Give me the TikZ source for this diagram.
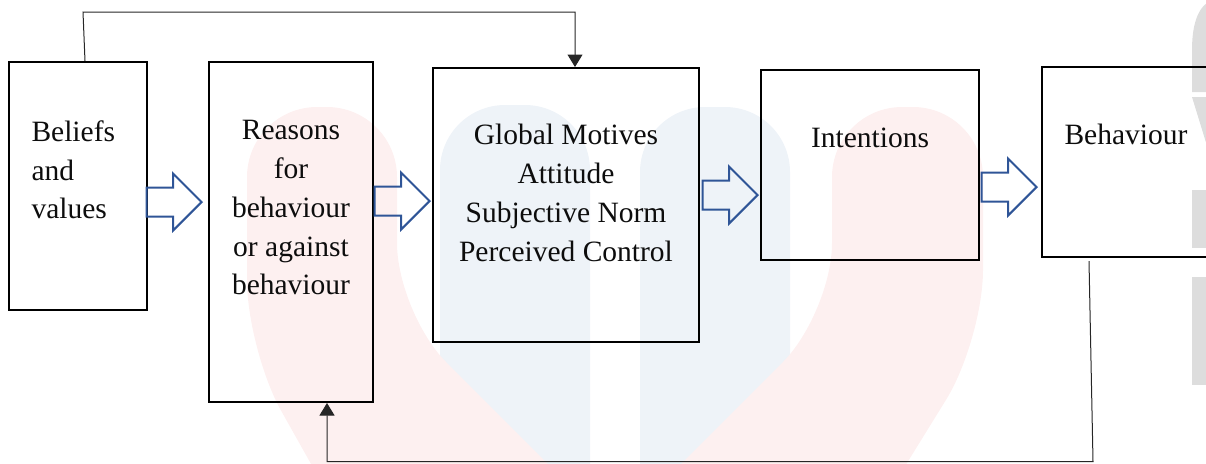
\documentclass[tikz,border=0pt]{standalone}
\usepackage{fontspec}
\setmainfont{Liberation Serif}
\usetikzlibrary{arrows.meta,calc,fit,shapes.arrows}
\definecolor{flowblue}{RGB}{47,85,151}
\definecolor{wmpink}{RGB}{253,240,240}
\definecolor{wmblue}{RGB}{238,243,248}
\definecolor{wmgrey}{RGB}{221,221,221}

\begin{document}
\begin{tikzpicture}[x=0.4pt,y=-0.4pt,
  box/.style={draw,line width=0.8pt,inner sep=0pt},
  txt/.style={inner sep=0pt,text=black!95,font={\fontsize{11.8}{15.5}\selectfont}},
  blk/.style={single arrow,draw=flowblue,line width=0.8pt,inner xsep=0pt,inner ysep=5.4pt,
    minimum height=22pt,single arrow head extend=5.6pt},
  fb/.style={line width=0.4pt,draw=black!85,-{Triangle[length=5pt,width=6pt]}}]
  \useasboundingbox (0,0) rectangle (1206,463);
  % watermark
  \fill[wmblue,rounded corners=26pt] (440,620) -- (440,105) -- (590,105) -- (590,620) -- cycle;
  \fill[wmblue,rounded corners=26pt] (640,620) -- (640,107) -- (790,107) -- (790,620) -- cycle;
  \fill[wmpink,rounded corners=28pt] (365,560) -- (247,350) -- (247,107) -- (397,107)
        -- (397,313) -- (644,560) -- cycle;
  \fill[wmpink,rounded corners=28pt] (585,560) -- (832,313) -- (832,107) -- (983,107)
        -- (983,340) -- (847,560) -- cycle;
  \fill[wmgrey] (1192,92) -- (1192,50) .. controls (1192,20) and (1200,5) .. (1212,0)
        -- (1212,92) -- cycle;
  \fill[wmgrey] (1192,97) -- (1212,97) -- (1212,162) -- cycle;
  \fill[wmgrey] (1192,190) rectangle (1212,248);
  \fill[wmgrey] (1192,277) rectangle (1212,385);
  % boxes
  \node[box,fit={(9,62) (147,310)}] (bel) {};
  \node[box,fit={(209,62) (373,402)}] (rea) {};
  \node[box,fit={(433,68) (699,342)}] (glo) {};
  \node[box,fit={(761,70) (979,260)}] (int) {};
  \node[box,fit={(1042,67) (1210,257)}] (beh) {};
  % texts
  \node[txt,anchor=north west,align=left] (beltxt) at (31,120) {Beliefs\\and\\values};
  \node[txt,anchor=north,align=center] (reatxt) at (291,120)
       {Reasons\\for\\behaviour\\or against\\behaviour};
  \node[txt,anchor=north,align=center] (glotxt) at (566,124)
       {Global Motives\\Attitude\\Subjective Norm\\Perceived Control};
  \node[txt,anchor=north] (inttxt) at (870,127) {Intentions};
  \node[txt,anchor=north] (behtxt) at (1126,124) {Behaviour};
  % block arrows
  \node[blk,anchor=tip] (ar1) at (203,202) {};
  \node[blk,anchor=tip] (ar2) at (431,201) {};
  \node[blk,anchor=tip] (ar3) at (759,195) {};
  \node[blk,anchor=tip] (ar4) at (1038,187) {};
  % feedback lines
  \coordinate (topl) at (83,12);
  \coordinate (topr) at (575,12);
  \draw[fb] ($(bel.north)+(7,0)$) -- (topl) -- (topr) -- (topr |- glo.north);
  \coordinate (botr) at (1093,461.5);
  \coordinate (botl) at (327,461.5);
  \draw[fb] ($(beh.south)+(-37,3)$) -- (botr) -- (botl) -- (botl |- rea.south);
\end{tikzpicture}
\end{document}
